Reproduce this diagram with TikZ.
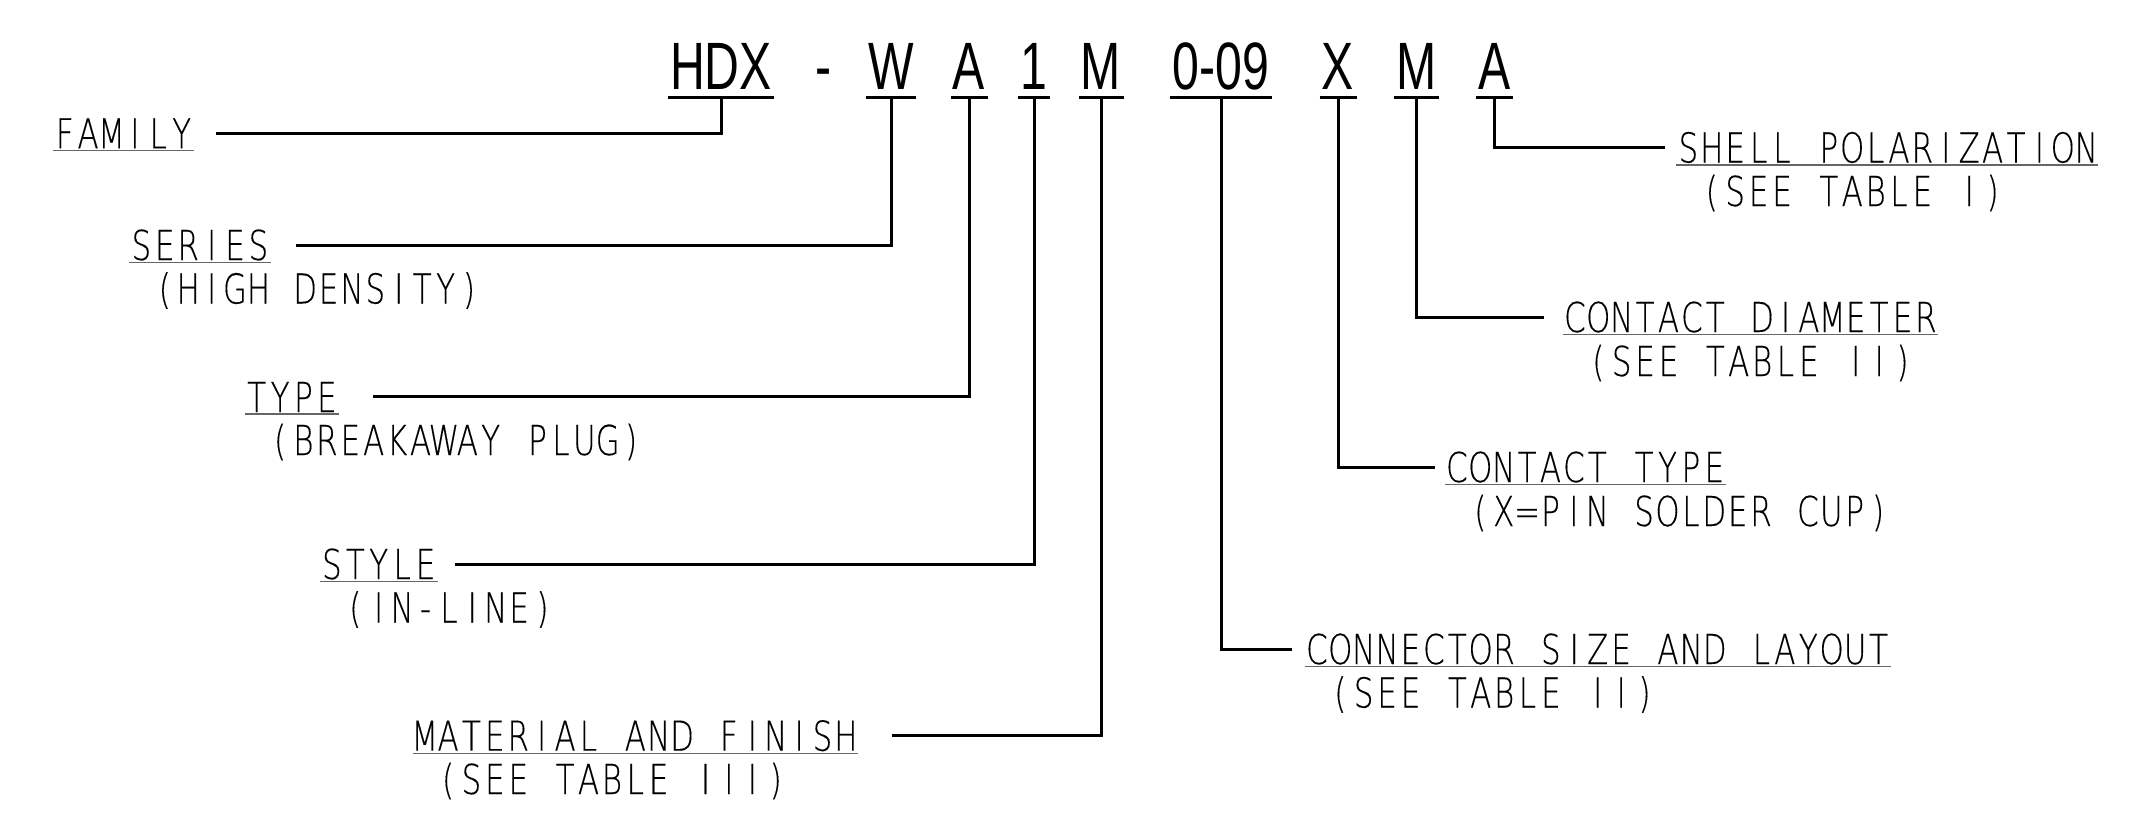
\documentclass[tikz,border=0pt]{standalone}
\usepackage{fontspec}
\newfontfamily\codefont{Liberation Sans}[FakeStretch=0.72]
\newfontfamily\cadfont{DejaVu Sans ExtraLight}[FakeStretch=0.75, FakeBold=0.2]
\ExplSyntaxOn
\NewDocumentCommand \cadtext { m }
  { \str_map_inline:nn {#1} { \makebox[11.7pt][c]{##1} } }
\ExplSyntaxOff
\tikzset{
  code/.style={font=\codefont\fontsize{33.5}{33.5}\selectfont, inner sep=0pt, anchor=base},
  lbl/.style={font=\cadfont\fontsize{20.6}{20.6}\selectfont, inner sep=0pt, anchor=base west},
  lead/.style={line width=1.5pt},
  bar/.style={line width=1.6pt},
  rule/.style={line width=0.7pt, black!60}
}

\begin{document}
\begin{tikzpicture}[x=0.5pt,y=-0.5pt]
	\useasboundingbox (0,0) rectangle (2156,824);
	
	%%%%% PART NUMBER %%%%%
	\node[code] (hdx) at (721,90) {HDX};
	\node[code] (hyph) at (823.5,90) {-};
	\node[code] (ser) at (891,90) {W};
	\node[code] (typ) at (969,90) {A};
	\node[code] (sty) at (1034,90) {1};
	\node[code] (mat) at (1101,90) {M};
	\node[code] (size) at (1221,90) {0-09};
	\node[code] (ctype) at (1338,90) {X};
	\node[code] (cdia) at (1416.5,90) {M};
	\node[code] (pol) at (1494.5,90) {A};
	
	\foreach \n in {hdx,ser,typ,sty,mat,size,ctype,cdia,pol}
		\draw[bar] ([shift={(-1pt,-3.85pt)}]\n.base west) -- ([shift={(1pt,-3.85pt)}]\n.base east);
	
	%%%%% LEFT LABELS %%%%%
	\node[lbl] (family) at (52.6,148.3) {\cadtext{FAMILY}};
	
	\node[lbl] (series) at (129.3,260) {\cadtext{SERIES}};
	\node[lbl] (seriesnote) at (152.7,303.5) {\cadtext{(HIGH DENSITY)}};
	
	\node[lbl] (type) at (244.6,412) {\cadtext{TYPE}};
	\node[lbl] (typenote) at (268,455) {\cadtext{(BREAKAWAY PLUG)}};
	
	\node[lbl] (style) at (319.8,579) {\cadtext{STYLE}};
	\node[lbl] (stylenote) at (343.2,622.5) {\cadtext{(IN-LINE)}};
	
	\node[lbl] (material) at (412.6,750.7) {\cadtext{MATERIAL AND FINISH}};
	\node[lbl] (materialnote) at (436,794) {\cadtext{(SEE TABLE III)}};
	
	%%%%% RIGHT LABELS %%%%%
	\node[lbl] (shell) at (1676.3,162.5) {\cadtext{SHELL POLARIZATION}};
	\node[lbl] (shellnote) at (1699.7,206) {\cadtext{(SEE TABLE I)}};
	
	\node[lbl] (diameter) at (1562.8,332) {\cadtext{CONTACT DIAMETER}};
	\node[lbl] (diameternote) at (1586.2,376) {\cadtext{(SEE TABLE II)}};
	
	\node[lbl] (contact) at (1444.8,482) {\cadtext{CONTACT TYPE}};
	\node[lbl] (contactnote) at (1468.2,526) {\cadtext{(X=PIN SOLDER CUP)}};
	
	\node[lbl] (layout) at (1304.8,664) {\cadtext{CONNECTOR SIZE AND LAYOUT}};
	\node[lbl] (layoutnote) at (1328.2,707.5) {\cadtext{(SEE TABLE II)}};
	
	\foreach \n in {family,series,type,style,material,shell,diameter,contact,layout}
		\draw[rule] ([yshift=-0.8pt]\n.south west) -- ([yshift=-0.8pt]\n.south east);
	
	%%%%% LEADERS %%%%%
	\draw[lead] ([yshift=-3.85pt]hdx.base) |- ([xshift=11pt]family.east);
	\draw[lead] ([yshift=-3.85pt]ser.base) |- ([xshift=12.6pt]series.east);
	\draw[lead] ([yshift=-3.85pt]typ.base) |- ([xshift=16.9pt]type.east);
	\draw[lead] ([yshift=-3.85pt]sty.base) |- ([xshift=8.6pt]style.east);
	\draw[lead] ([yshift=-3.85pt]mat.base) |- ([xshift=16.9pt]material.east);
	
	\draw[lead] ([yshift=-3.85pt]size.base) |- ([xshift=-6.6pt]layout.west);
	\draw[lead] ([yshift=-3.85pt]ctype.base) |- ([xshift=-4.9pt]contact.west);
	\draw[lead] ([yshift=-3.85pt]cdia.base) |- ([xshift=-9.4pt]diameter.west);
	\draw[lead] ([yshift=-3.85pt]pol.base) |- ([xshift=-5.6pt]shell.west);
	
\end{tikzpicture}
\end{document}
